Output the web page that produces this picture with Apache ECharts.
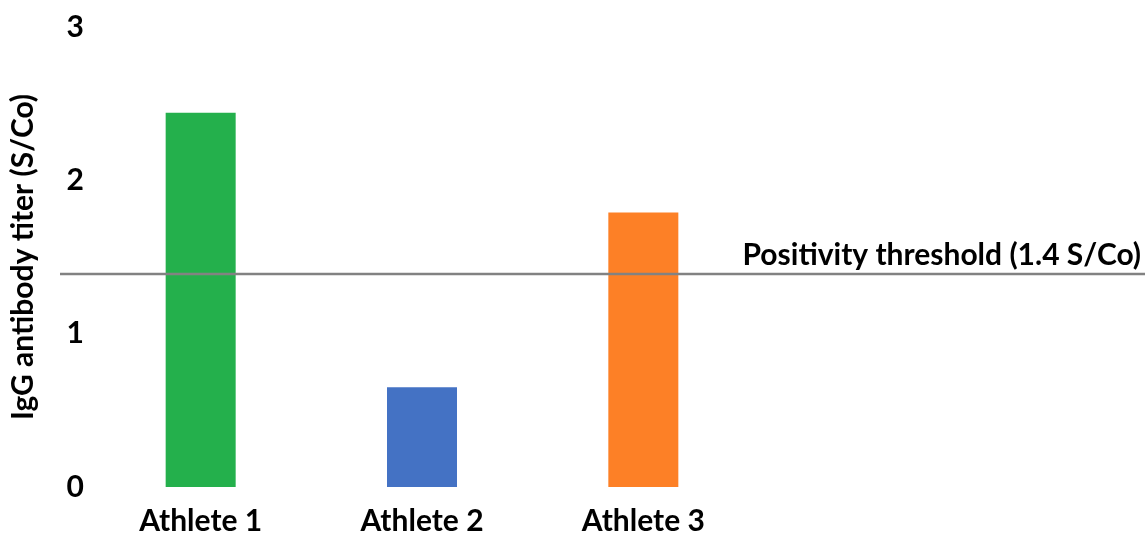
<!DOCTYPE html>
<html>
<head>
<meta charset="utf-8">
<script src="https://cdn.jsdelivr.net/npm/echarts@6/dist/echarts.min.js"></script>
<style>html,body{margin:0;padding:0;background:#fff}#c{width:1145px;height:536px}</style>
</head>
<body>
<div id="c"></div>
<script>
const categories = ['Athlete 1', 'Athlete 2', 'Athlete 3'];
const titers = [2.44, 0.65, 1.79];
const barColors = ['#24b04c', '#4472c4', '#fd8026'];
const threshold = 1.4;
const thresholdLabel = 'Positivity threshold (1.4 S/Co)';
const yTicks = [0, 1, 2, 3];
const yName = 'IgG antibody titer (S/Co)';

const FONT = 'Lato';
const FS = 30;
const chart = echarts.init(document.getElementById('c'));
chart.setOption({
  animation: false,
  textStyle: { fontFamily: FONT },
  grid: [
    { left: 76, top: 27, bottom: 46, width: 678 },
    { left: 60, right: 0, top: 27, bottom: 46 }
  ],
  xAxis: [
    {
      type: 'category', gridIndex: 0, data: categories,
      axisLine: { show: false }, axisTick: { show: false },
      axisLabel: { color: '#000', fontSize: FS, fontWeight: 'bold', fontFamily: FONT, margin: 19 }
    },
    { type: 'value', gridIndex: 1, min: 0, max: 1, show: false }
  ],
  yAxis: [
    {
      type: 'value', gridIndex: 0, min: yTicks[0], max: yTicks[yTicks.length - 1], interval: 1,
      name: yName, nameLocation: 'middle', nameGap: 52, nameRotate: 90,
      nameTextStyle: { color: '#000', fontSize: FS, fontWeight: 'bold', fontFamily: FONT },
      axisLine: { show: false }, axisTick: { show: false }, splitLine: { show: false },
      axisLabel: { color: '#000', fontSize: FS, fontWeight: 'bold', fontFamily: FONT, margin: 6 }
    },
    { type: 'value', gridIndex: 1, min: yTicks[0], max: yTicks[yTicks.length - 1], show: false }
  ],
  series: [
    {
      type: 'bar', xAxisIndex: 0, yAxisIndex: 0, barWidth: 70,
      data: titers.map((v, i) => ({ value: v, itemStyle: { color: barColors[i] } }))
    },
    {
      type: 'line', xAxisIndex: 1, yAxisIndex: 1, z: 5,
      data: [[0, threshold], [1, threshold]], showSymbol: false, silent: true,
      lineStyle: { color: '#828282', width: 2.5 },
      markLine: {
        silent: true, symbol: 'none',
        lineStyle: { color: 'rgba(0,0,0,0)', width: 1, type: 'solid' },
        label: {
          show: true, position: 'insideEndTop', formatter: thresholdLabel, distance: 4,
          color: '#000', fontSize: FS, fontWeight: 'bold', fontFamily: FONT
        },
        data: [{ yAxis: threshold }]
      }
    }
  ]
});
</script>
</body>
</html>
